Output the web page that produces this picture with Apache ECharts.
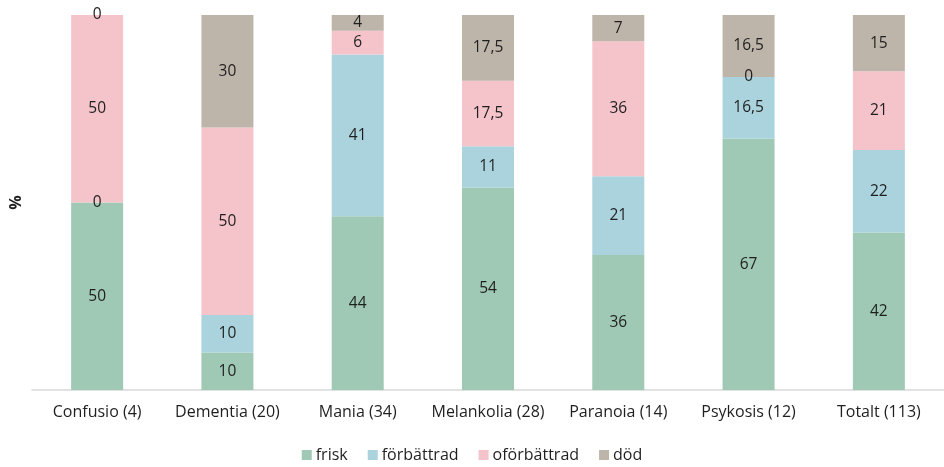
<!DOCTYPE html>
<html>
<head>
<meta charset="utf-8">
<script src="https://cdn.jsdelivr.net/npm/echarts@6/dist/echarts.min.js"></script>
<style>
  html, body { margin: 0; padding: 0; background: #ffffff; }
  #chart { width: 944px; height: 467px; }
</style>
</head>
<body>
<div id="chart"></div>
<script>
// Outcome per diagnosis group (values in %), drawn as 100 % stacked columns
const categories = ['Confusio (4)', 'Dementia (20)', 'Mania (34)', 'Melankolia (28)', 'Paranoia (14)', 'Psykosis (12)', 'Totalt (113)'];
const seriesNames = ['frisk', 'förbättrad', 'oförbättrad', 'död'];
const frisk       = [50, 10, 44, 54, 36, 67, 42];
const forbattrad  = [0, 10, 41, 11, 21, 16.5, 22];
const oforbattrad = [50, 50, 6, 17.5, 36, 0, 21];
const dod         = [0, 30, 4, 17.5, 7, 16.5, 15];
const colors = ['#9fc9b5', '#aad3dd', '#f4c4ca', '#beb5aa'];

const raw = [frisk, forbattrad, oforbattrad, dod];
// each column is scaled to its own total so it fills 100 %
const totals = categories.map((_, i) => raw.reduce((s, arr) => s + arr[i], 0));

const fontFamily = '"Open Sans", "Liberation Sans", sans-serif';
const fmt = v => String(v).replace('.', ',');

const series = raw.map((arr, k) => ({
  name: seriesNames[k],
  type: 'bar',
  stack: 'total',
  barWidth: 52,
  itemStyle: { color: colors[k] },
  label: {
    show: true,
    position: 'inside',
    color: '#1f1f1f',
    fontFamily: fontFamily,
    fontSize: 15.5,
    formatter: p => fmt(arr[p.dataIndex])
  },
  data: arr.map((v, i) => v / totals[i] * 100)
}));

const chart = echarts.init(document.getElementById('chart'), null, { renderer: 'canvas' });
chart.setOption({
  animation: false,
  backgroundColor: '#ffffff',
  grid: { left: 31, right: -2, top: 15, bottom: 77, containLabel: false },
  xAxis: {
    type: 'category',
    data: categories,
    axisTick: { show: false },
    axisLine: { lineStyle: { color: '#d9d9d9', width: 1.5 } },
    axisLabel: { color: '#1f1f1f', fontFamily: fontFamily, fontSize: 16, margin: 14, interval: 0 }
  },
  yAxis: {
    type: 'value',
    min: 0,
    max: 100,
    name: '%',
    nameLocation: 'middle',
    nameRotate: 90,
    nameGap: 8,
    nameTextStyle: { color: '#1f1f1f', fontFamily: fontFamily, fontSize: 16, fontWeight: 'bold' },
    axisLabel: { show: false },
    axisLine: { show: false },
    axisTick: { show: false },
    splitLine: { show: false }
  },
  legend: {
    data: seriesNames,
    top: 442,
    left: 'center',
    padding: [5, 5, 0, 5],
    icon: 'rect',
    itemWidth: 10,
    itemHeight: 10,
    itemGap: 20,
    textStyle: { color: '#1f1f1f', fontFamily: fontFamily, fontSize: 16, padding: [0, 0, 0, -1] }
  },
  series: series
});
</script>
</body>
</html>
